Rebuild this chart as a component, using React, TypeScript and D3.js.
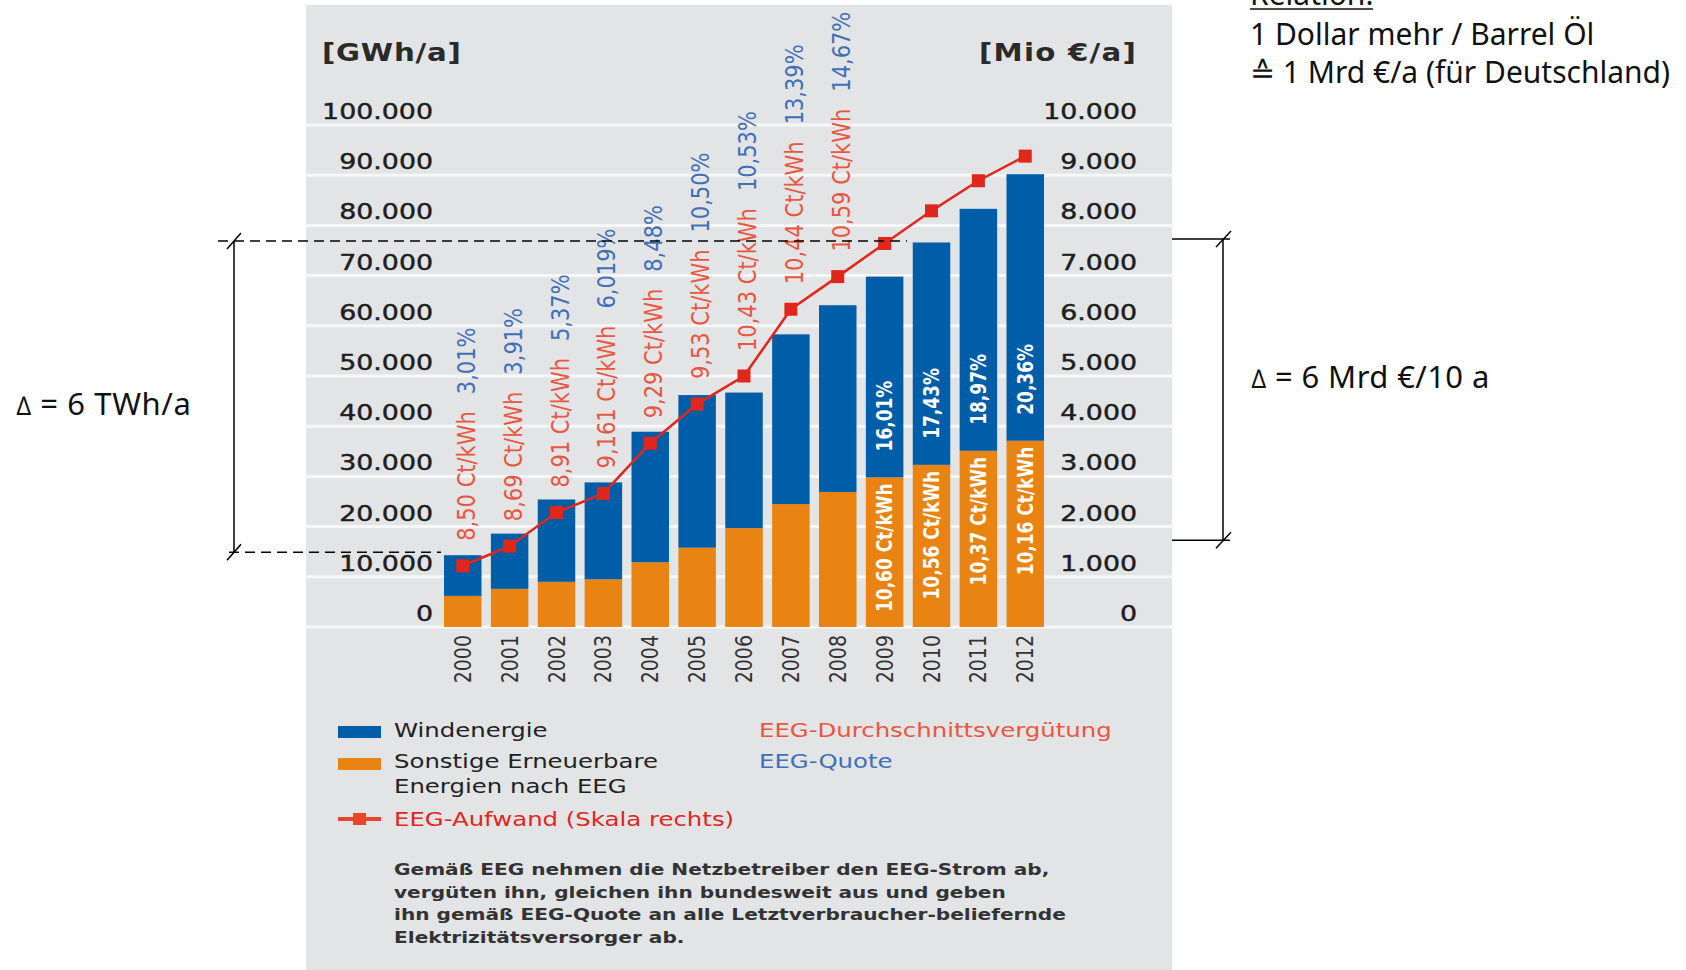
import React from 'react';
import * as d3 from 'd3';

const years = ['2000','2001','2002','2003','2004','2005','2006','2007','2008','2009','2010','2011','2012'];
const windGWh = [8100, 11000, 16400, 19300, 26000, 30400, 27000, 33800, 37200, 40000, 44300, 48200, 53100];
const otherGWh = [6200, 7600, 9000, 9500, 12900, 15800, 19700, 24500, 26900, 29800, 32300, 35100, 37100];
const aufwandMio = [1220, 1610, 2280, 2660, 3660, 4440, 5000, 6330, 6980, 7640, 8290, 8890, 9380];
const verguetung = ['8,50','8,69','8,91','9,161','9,29','9,53','10,43','10,44','10,59','10,60','10,56','10,37','10,16'];
const quote = ['3,01%','3,91%','5,37%','6,019%','8,48%','10,50%','10,53%','13,39%','14,67%','16,01%','17,43%','18,97%','20,36%'];
const leftTicks = [0, 10000, 20000, 30000, 40000, 50000, 60000, 70000, 80000, 90000, 100000];
const rightTicks = [0, 1000, 2000, 3000, 4000, 5000, 6000, 7000, 8000, 9000, 10000];
const insideFrom = '2009';
const paragraph = [
  'Gemäß EEG nehmen die Netzbetreiber den EEG-Strom ab,',
  'vergüten ihn, gleichen ihn bundesweit aus und geben',
  'ihn gemäß EEG-Quote an alle Letztverbraucher-beliefernde',
  'Elektrizitätsversorger ab.',
];
// annotation brackets (values on left / right scale)
const leftBracket = [76900, 14900];
const rightBracket = [7730, 1730];

const SX = 1.22;
const PF = '"DejaVu Sans", Verdana, sans-serif';
const AF = '"Noto Sans", "Open Sans", sans-serif';
const BLUE = '#005ea8';
const ORANGE = '#e98312';
const RED = '#e1261c';
const RED_T = '#ea563f';
const BLUE_T = '#3f70b8';
const PANEL = '#e3e4e6';

const fmt = d3.formatLocale({ decimal: ',', thousands: '.', grouping: [3], currency: ['', ''] }).format(',');

function HText({ x, y, anchor = 'start', size = 20, weight = 'normal', fill = '#222', stroke, ls, children }: any) {
  return (
    <text transform={`translate(${x},${y}) scale(${SX},1)`} textAnchor={anchor}
      fontFamily={PF} fontSize={size} fontWeight={weight} fill={fill}
      stroke={stroke} strokeWidth={stroke ? 0.45 : undefined} letterSpacing={ls}>{children}</text>
  );
}

function VText({ x, y, anchor = 'start', size = 20, weight = 'normal', fill = '#222', children }: any) {
  return (
    <text transform={`translate(${x},${y}) scale(${SX},1) rotate(-90)`} textAnchor={anchor}
      fontFamily={PF} fontSize={size} fontWeight={weight} fill={fill}>{children}</text>
  );
}

export default function App() {
  const x = d3.scaleBand().domain(years).range([444, 1044]).paddingInner(0.2).paddingOuter(0);
  const yL = d3.scaleLinear().domain([0, 100000]).range([627, 125]);
  const yR = d3.scaleLinear().domain([0, 10000]).range([627, 125]);
  const cx = (yr: string) => (x(yr) as number) + x.bandwidth() / 2;
  const line = d3.line<number>().x((_, i) => cx(years[i])).y((d) => yR(d));
  const panel = { x0: 306, x1: 1172, y0: 5, y1: 970 };
  const insideIdx = years.indexOf(insideFrom);
  const mk = 13;

  return (
    <svg width={1686} height={970} style={{ position: 'absolute', left: 0, top: 0, background: '#fff' }}>
      <rect x={panel.x0} y={panel.y0} width={panel.x1 - panel.x0} height={panel.y1 - panel.y0} fill={PANEL} />

      {/* gridlines */}
      {leftTicks.map((t) => (
        <line key={'g' + t} x1={panel.x0} x2={panel.x1} y1={yL(t)} y2={yL(t)} stroke="#f7f7f7" strokeWidth={3} />
      ))}

      {/* axis headers */}
      <HText x={322} y={61} size={24} weight="bold" fill="#2a2a2a" ls={0.6}>[GWh/a]</HText>
      <HText x={1137} y={61} size={24} weight="bold" fill="#2a2a2a" anchor="end" ls={1}>[Mio €/a]</HText>

      {/* tick labels */}
      {leftTicks.map((t) => (
        <HText key={'l' + t} x={433} y={yL(t) - 6} size={22} anchor="end" fill="#1e1e1e" stroke="#1e1e1e">{fmt(t)}</HText>
      ))}
      {rightTicks.map((t) => (
        <HText key={'r' + t} x={1137} y={yR(t) - 6} size={22} anchor="end" fill="#1e1e1e" stroke="#1e1e1e">{fmt(t)}</HText>
      ))}

      {/* bars */}
      {years.map((yr, i) => {
        const o = otherGWh[i];
        const w = windGWh[i];
        return (
          <g key={'b' + yr}>
            <rect x={x(yr)} width={x.bandwidth()} y={yL(o)} height={yL(0) - yL(o)} fill={ORANGE} />
            <rect x={x(yr)} width={x.bandwidth()} y={yL(o + w)} height={yL(o) - yL(o + w)} fill={BLUE} />
          </g>
        );
      })}

      {/* year labels */}
      {years.map((yr) => (
        <VText key={'y' + yr} x={cx(yr) + 8} y={635} anchor="end" size={19} fill="#333">{yr}</VText>
      ))}

      {/* line */}
      <path d={line(aufwandMio) || ''} fill="none" stroke={RED} strokeWidth={2.5} />
      {aufwandMio.map((v, i) => (
        <rect key={'m' + i} x={cx(years[i]) - mk / 2} y={yR(v) - mk / 2} width={mk} height={mk} fill={RED} />
      ))}

      {/* value labels */}
      {years.map((yr, i) => {
        if (i < insideIdx) {
          return (
            <VText key={'v' + yr} x={cx(yr) + 12} y={yR(aufwandMio[i]) - 25} size={21}>
              <tspan fill={RED_T}>{verguetung[i] + ' Ct/kWh'}</tspan>
              <tspan fill={BLUE_T} dx={17}>{quote[i]}</tspan>
            </VText>
          );
        }
        const top = yL(otherGWh[i]);
        return (
          <g key={'v' + yr}>
            <VText x={cx(yr) + 7.5} y={top + 6} anchor="end" size={17} weight="bold" fill="#fff">{verguetung[i] + ' Ct/kWh'}</VText>
            <VText x={cx(yr) + 7.5} y={top - 26} anchor="start" size={17} weight="bold" fill="#fff">{quote[i]}</VText>
          </g>
        );
      })}

      {/* legend */}
      <rect x={338} y={726} width={43} height={12} fill={BLUE} />
      <rect x={338} y={758} width={43} height={12} fill={ORANGE} />
      <line x1={338} x2={381} y1={819} y2={819} stroke="#e8462a" strokeWidth={4} />
      <rect x={353} y={813} width={13} height={12} fill="#e8462a" />
      <HText x={394} y={737} size={20}>Windenergie</HText>
      <HText x={394} y={768} size={20}>Sonstige Erneuerbare</HText>
      <HText x={394} y={793} size={20}>Energien nach EEG</HText>
      <HText x={394} y={826} size={20} fill={RED}>EEG-Aufwand (Skala rechts)</HText>
      <HText x={759} y={737} size={20} fill={RED_T}>EEG-Durchschnittsvergütung</HText>
      <HText x={759} y={768} size={20} fill={BLUE_T}>EEG-Quote</HText>
      {paragraph.map((p, i) => (
        <HText key={'p' + i} x={394} y={875 + i * 22.5} size={16.5} weight="bold" fill="#333">{p}</HText>
      ))}

      {/* left bracket */}
      <line x1={218} x2={907} y1={yL(leftBracket[0])} y2={yL(leftBracket[0])} stroke="#000" strokeWidth={1.5} strokeDasharray="10,6" />
      <line x1={229} x2={441} y1={yL(leftBracket[1])} y2={yL(leftBracket[1])} stroke="#000" strokeWidth={1.5} strokeDasharray="10,6" />
      <line x1={234} x2={234} y1={yL(leftBracket[0])} y2={yL(leftBracket[1])} stroke="#000" strokeWidth={1.5} />
      {leftBracket.map((v) => (
        <line key={'ls' + v} x1={227} x2={241} y1={yL(v) + 8} y2={yL(v) - 8} stroke="#000" strokeWidth={1.5} />
      ))}
      <text x={16} y={415} fontFamily={AF} fontSize={31} fill="#111" letterSpacing={0.6}>
        <tspan fontSize={26}>∆</tspan> = 6 TWh/a
      </text>

      {/* right bracket */}
      {rightBracket.map((v) => (
        <g key={'rb' + v}>
          <line x1={1172} x2={1230} y1={yR(v)} y2={yR(v)} stroke="#000" strokeWidth={1.5} />
          <line x1={1216} x2={1231} y1={yR(v) + 8} y2={yR(v) - 8} stroke="#000" strokeWidth={1.5} />
        </g>
      ))}
      <line x1={1223} x2={1223} y1={yR(rightBracket[0])} y2={yR(rightBracket[1])} stroke="#000" strokeWidth={1.5} />
      <text x={1251} y={388} fontFamily={AF} fontSize={31} fill="#111" letterSpacing={0.4}>
        <tspan fontSize={26}>∆</tspan> = 6 Mrd €/10 a
      </text>

      {/* relation note */}
      <text x={1250} y={5} fontFamily={AF} fontSize={30} fill="#111">Relation:</text>
      <line x1={1250} x2={1373} y1={9} y2={9} stroke="#111" strokeWidth={1.5} />
      <text x={1250} y={45} fontFamily={AF} fontSize={30} fill="#111">1 Dollar mehr / Barrel Öl</text>
      <text x={1250} y={83} fontFamily={AF} fontSize={30} fill="#111">≙ 1 Mrd €/a (für Deutschland)</text>
    </svg>
  );
}
